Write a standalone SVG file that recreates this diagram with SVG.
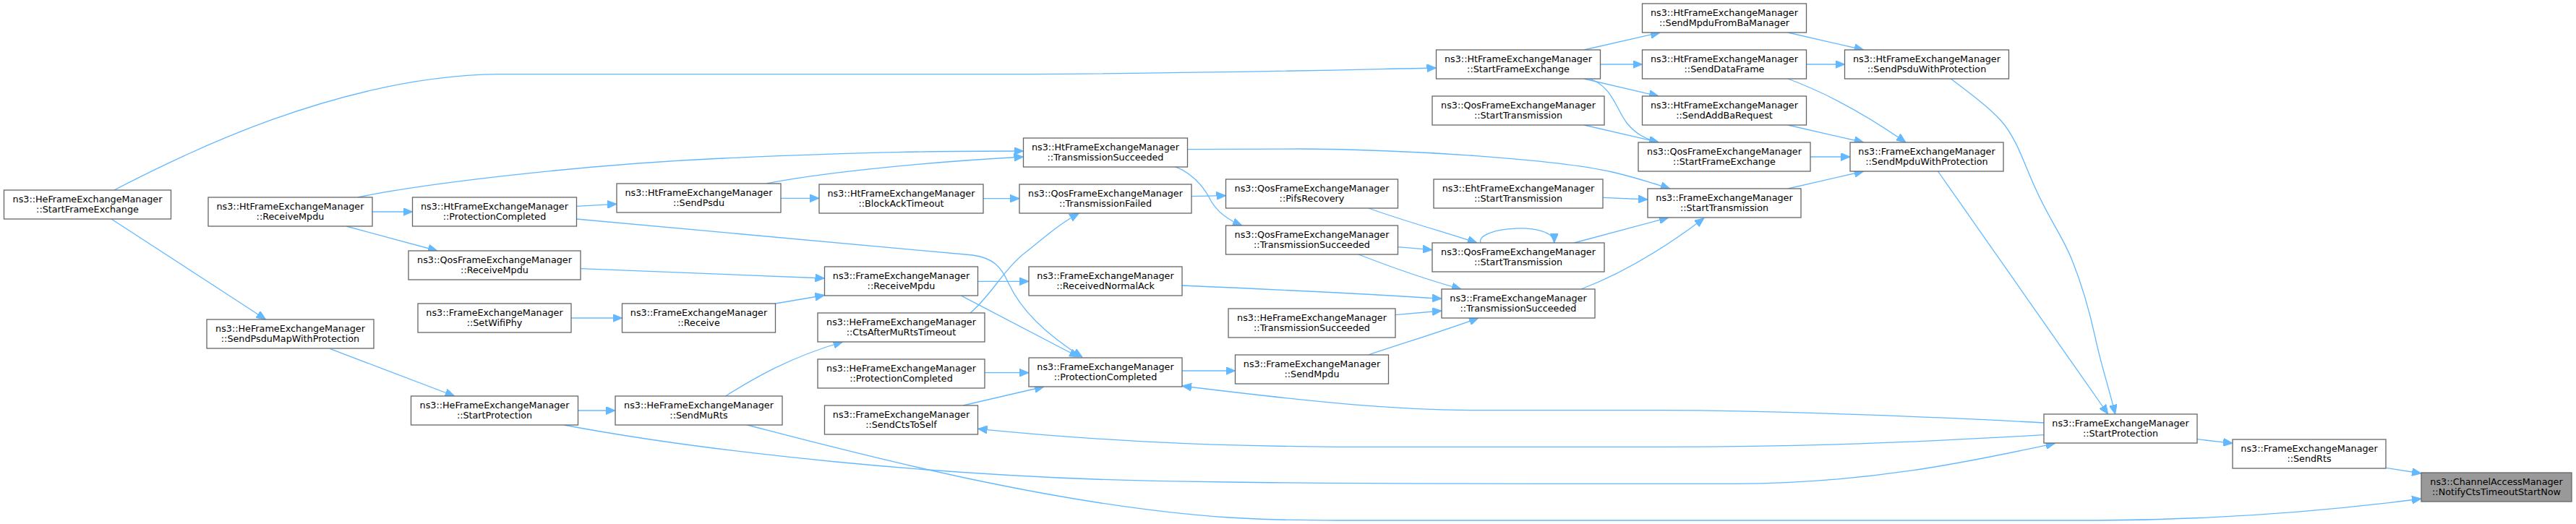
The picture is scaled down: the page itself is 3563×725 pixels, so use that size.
<svg xmlns="http://www.w3.org/2000/svg" width="3563" height="725" viewBox="0 0 3563 725">
<style>
.node rect{fill:#ffffff;stroke:#666666;stroke-width:1.3}
.root rect{fill:#999999}
.node text{font-family:"DejaVu Sans","Liberation Sans",sans-serif;font-size:12.75px;text-anchor:middle;fill:#000000}
#edges path{fill:none;stroke:#63b8ff;stroke-width:1.3;marker-end:url(#ah)}
</style>
<defs>
<marker id="ah" viewBox="0 0 13 11" refX="13" refY="5.5" markerWidth="13" markerHeight="11" markerUnits="userSpaceOnUse" orient="auto">
<path d="M0,0 L13,5.5 L0,11 z" fill="#63b8ff" stroke="#63b8ff" stroke-width="1"/>
</marker>
</defs>
<rect x="0" y="0" width="3563" height="725" fill="#ffffff"/>
<g id="edges">
<path d="M158,263 C250,215 470,105 690,102.7 L1420,102.7 C1700,101 1860,96.5 1986.5,94"/>
<path d="M154,303 L367.7,442"/>
<path d="M515,293 L570.5,293"/>
<path d="M479,313 L605,347"/>
<path d="M495,273 C580,255 800,228 1000,219 S1300,209 1415.5,209"/>
<path d="M1060,254 C1120,242 1250,226 1415.5,217"/>
<path d="M797,285.3 L853,282.3"/>
<path d="M797,303 L1345,353 C1375,357 1385,370 1395,392 C1415,435 1455,468 1497,494"/>
<path d="M1330,409.3 L1492,494"/>
<path d="M803,371.7 L1140.5,385"/>
<path d="M1072.5,420 L1140.5,408.5"/>
<path d="M790,440 L860.5,440"/>
<path d="M456.7,482.7 L628.7,548"/>
<path d="M799.5,568 L851,568"/>
<path d="M780,588 C950,620 1300,665 1700,667 C1900,670 2200,669.3 2400,669.3 C2580,669 2720,640 2842.6,613.3"/>
<path d="M1033.6,588 C1150,618 1450,700 1700,716 C1750,719 1800,720 1850,720 L2900,720 C3100,719 3250,703 3349,690"/>
<path d="M2827,585 C2700,578 2450,567.7 2300,567.7 L2040,567.7 C1930,567 1830,558 1635,534"/>
<path d="M2827,601.7 C2650,612 2500,618.3 2300,618.3 L1850,618.3 C1650,617 1500,608 1352.5,593.3"/>
<path d="M1003.7,548 C1040,525 1090,495 1165.6,473"/>
<path d="M1342,433 C1370,410 1390,370 1420,348 C1445,328 1465,310 1492.4,295"/>
<path d="M1352.5,389.3 L1423,389.3"/>
<path d="M1362,515.7 L1423,515.7"/>
<path d="M1332,561 L1444,535"/>
<path d="M1635,513 L1708.5,513"/>
<path d="M1635,395 C1750,400 1880,406 1994,413.3"/>
<path d="M1642.5,206.7 L1800,206 C1950,207 2150,220 2230,238 C2260,245 2285,253 2309.8,261"/>
<path d="M1625,230.3 C1650,240 1665,258 1675,278 C1685,295 1700,305 1718,312"/>
<path d="M1360,274.7 L1410,274.7"/>
<path d="M1080,274.3 L1133,274.3"/>
<path d="M1648,271.7 L1695.5,270.7"/>
<path d="M1892.7,288 C1940,305 2000,322 2043,336"/>
<path d="M1933,341.7 L1981,345.7"/>
<path d="M1879,352 C1920,368 1970,386 2021,400"/>
<path d="M1930,435.7 L1994,430"/>
<path d="M1892.7,491 C1940,475 1990,460 2045,440"/>
<path d="M2048,336 C2040,314 2150,305 2149.7,336"/>
<path d="M2177.4,336 L2307.8,301"/>
<path d="M2187,400 C2240,380 2300,345 2357,301.7"/>
<path d="M2217,273.3 L2279,276"/>
<path d="M2191,69 L2296,45"/>
<path d="M2213.5,89 L2271.5,89"/>
<path d="M2191,109 L2294,133"/>
<path d="M2199,109 C2230,120 2235,150 2250,170 C2262,185 2275,192 2294,197"/>
<path d="M2191,173 L2294,196.7"/>
<path d="M2473,45 L2577.7,69"/>
<path d="M2498.5,89 L2551.5,89"/>
<path d="M2473,109 C2530,130 2590,165 2636,197"/>
<path d="M2473,173 L2577.7,197"/>
<path d="M2504,217 L2559,217"/>
<path d="M2473,261 L2577.7,237"/>
<path d="M2698.3,109 C2730,133 2750,148 2767.5,166.7 C2790,192 2800,228 2815,260 C2835,305 2852,325 2866,360 C2880,395 2890,430 2898,466.7 C2906,505 2918,540 2925.6,573"/>
<path d="M2680.5,237 L2915.8,573"/>
<path d="M3039,607.7 L3088,613.3"/>
<path d="M3300.5,647.3 L3349,655"/>
</g>
<g id="n1" class="node"><rect x="5.5" y="263" width="231" height="40"/><text><tspan x="121" y="280">ns3::HeFrameExchangeManager</tspan><tspan x="121" y="294">::StartFrameExchange</tspan></text></g>
<g id="n2" class="node"><rect x="288" y="273" width="227" height="40"/><text><tspan x="401.5" y="290">ns3::HtFrameExchangeManager</tspan><tspan x="401.5" y="304">::ReceiveMpdu</tspan></text></g>
<g id="n3" class="node"><rect x="570.5" y="273" width="227" height="40"/><text><tspan x="684" y="290">ns3::HtFrameExchangeManager</tspan><tspan x="684" y="304">::ProtectionCompleted</tspan></text></g>
<g id="n4" class="node"><rect x="565" y="347" width="238" height="40"/><text><tspan x="684" y="364">ns3::QosFrameExchangeManager</tspan><tspan x="684" y="378">::ReceiveMpdu</tspan></text></g>
<g id="n5" class="node"><rect x="286" y="442" width="231" height="40"/><text><tspan x="401.5" y="459">ns3::HeFrameExchangeManager</tspan><tspan x="401.5" y="473">::SendPsduMapWithProtection</tspan></text></g>
<g id="n6" class="node"><rect x="578" y="420" width="212" height="40"/><text><tspan x="684" y="437">ns3::FrameExchangeManager</tspan><tspan x="684" y="451">::SetWifiPhy</tspan></text></g>
<g id="n7" class="node"><rect x="568.5" y="548" width="231" height="40"/><text><tspan x="684" y="565">ns3::HeFrameExchangeManager</tspan><tspan x="684" y="579">::StartProtection</tspan></text></g>
<g id="n8" class="node"><rect x="853" y="254" width="227" height="40"/><text><tspan x="966.5" y="271">ns3::HtFrameExchangeManager</tspan><tspan x="966.5" y="285">::SendPsdu</tspan></text></g>
<g id="n9" class="node"><rect x="1133" y="255" width="227" height="40"/><text><tspan x="1246.5" y="272">ns3::HtFrameExchangeManager</tspan><tspan x="1246.5" y="286">::BlockAckTimeout</tspan></text></g>
<g id="n10" class="node"><rect x="1140.5" y="369" width="212" height="40"/><text><tspan x="1246.5" y="386">ns3::FrameExchangeManager</tspan><tspan x="1246.5" y="400">::ReceiveMpdu</tspan></text></g>
<g id="n11" class="node"><rect x="860.5" y="420" width="212" height="40"/><text><tspan x="966.5" y="437">ns3::FrameExchangeManager</tspan><tspan x="966.5" y="451">::Receive</tspan></text></g>
<g id="n12" class="node"><rect x="851" y="548" width="231" height="40"/><text><tspan x="966.5" y="565">ns3::HeFrameExchangeManager</tspan><tspan x="966.5" y="579">::SendMuRts</tspan></text></g>
<g id="n13" class="node"><rect x="1131" y="433" width="231" height="40"/><text><tspan x="1246.5" y="450">ns3::HeFrameExchangeManager</tspan><tspan x="1246.5" y="464">::CtsAfterMuRtsTimeout</tspan></text></g>
<g id="n14" class="node"><rect x="1131" y="497" width="231" height="40"/><text><tspan x="1246.5" y="514">ns3::HeFrameExchangeManager</tspan><tspan x="1246.5" y="528">::ProtectionCompleted</tspan></text></g>
<g id="n15" class="node"><rect x="1140.5" y="561" width="212" height="40"/><text><tspan x="1246.5" y="578">ns3::FrameExchangeManager</tspan><tspan x="1246.5" y="592">::SendCtsToSelf</tspan></text></g>
<g id="n16" class="node"><rect x="1415.5" y="191" width="227" height="40"/><text><tspan x="1529" y="208">ns3::HtFrameExchangeManager</tspan><tspan x="1529" y="222">::TransmissionSucceeded</tspan></text></g>
<g id="n17" class="node"><rect x="1410" y="255" width="238" height="40"/><text><tspan x="1529" y="272">ns3::QosFrameExchangeManager</tspan><tspan x="1529" y="286">::TransmissionFailed</tspan></text></g>
<g id="n18" class="node"><rect x="1423" y="369" width="212" height="40"/><text><tspan x="1529" y="386">ns3::FrameExchangeManager</tspan><tspan x="1529" y="400">::ReceivedNormalAck</tspan></text></g>
<g id="n19" class="node"><rect x="1423" y="495" width="212" height="40"/><text><tspan x="1529" y="512">ns3::FrameExchangeManager</tspan><tspan x="1529" y="526">::ProtectionCompleted</tspan></text></g>
<g id="n20" class="node"><rect x="1695.5" y="248" width="238" height="40"/><text><tspan x="1814.5" y="265">ns3::QosFrameExchangeManager</tspan><tspan x="1814.5" y="279">::PifsRecovery</tspan></text></g>
<g id="n21" class="node"><rect x="1695.5" y="312" width="238" height="40"/><text><tspan x="1814.5" y="329">ns3::QosFrameExchangeManager</tspan><tspan x="1814.5" y="343">::TransmissionSucceeded</tspan></text></g>
<g id="n22" class="node"><rect x="1699" y="427" width="231" height="40"/><text><tspan x="1814.5" y="444">ns3::HeFrameExchangeManager</tspan><tspan x="1814.5" y="458">::TransmissionSucceeded</tspan></text></g>
<g id="n23" class="node"><rect x="1708.5" y="491" width="212" height="40"/><text><tspan x="1814.5" y="508">ns3::FrameExchangeManager</tspan><tspan x="1814.5" y="522">::SendMpdu</tspan></text></g>
<g id="n24" class="node"><rect x="1986.5" y="69" width="227" height="40"/><text><tspan x="2100" y="86">ns3::HtFrameExchangeManager</tspan><tspan x="2100" y="100">::StartFrameExchange</tspan></text></g>
<g id="n25" class="node"><rect x="1981" y="133" width="238" height="40"/><text><tspan x="2100" y="150">ns3::QosFrameExchangeManager</tspan><tspan x="2100" y="164">::StartTransmission</tspan></text></g>
<g id="n26" class="node"><rect x="1983" y="248" width="234" height="40"/><text><tspan x="2100" y="265">ns3::EhtFrameExchangeManager</tspan><tspan x="2100" y="279">::StartTransmission</tspan></text></g>
<g id="n27" class="node"><rect x="1981" y="336" width="238" height="40"/><text><tspan x="2100" y="353">ns3::QosFrameExchangeManager</tspan><tspan x="2100" y="367">::StartTransmission</tspan></text></g>
<g id="n28" class="node"><rect x="1994" y="400" width="212" height="40"/><text><tspan x="2100" y="417">ns3::FrameExchangeManager</tspan><tspan x="2100" y="431">::TransmissionSucceeded</tspan></text></g>
<g id="n29" class="node"><rect x="2271.5" y="5" width="227" height="40"/><text><tspan x="2385" y="22">ns3::HtFrameExchangeManager</tspan><tspan x="2385" y="36">::SendMpduFromBaManager</tspan></text></g>
<g id="n30" class="node"><rect x="2271.5" y="69" width="227" height="40"/><text><tspan x="2385" y="86">ns3::HtFrameExchangeManager</tspan><tspan x="2385" y="100">::SendDataFrame</tspan></text></g>
<g id="n31" class="node"><rect x="2271.5" y="133" width="227" height="40"/><text><tspan x="2385" y="150">ns3::HtFrameExchangeManager</tspan><tspan x="2385" y="164">::SendAddBaRequest</tspan></text></g>
<g id="n32" class="node"><rect x="2266" y="197" width="238" height="40"/><text><tspan x="2385" y="214">ns3::QosFrameExchangeManager</tspan><tspan x="2385" y="228">::StartFrameExchange</tspan></text></g>
<g id="n33" class="node"><rect x="2279" y="261" width="212" height="40"/><text><tspan x="2385" y="278">ns3::FrameExchangeManager</tspan><tspan x="2385" y="292">::StartTransmission</tspan></text></g>
<g id="n34" class="node"><rect x="2551.5" y="69" width="227" height="40"/><text><tspan x="2665" y="86">ns3::HtFrameExchangeManager</tspan><tspan x="2665" y="100">::SendPsduWithProtection</tspan></text></g>
<g id="n35" class="node"><rect x="2559" y="197" width="212" height="40"/><text><tspan x="2665" y="214">ns3::FrameExchangeManager</tspan><tspan x="2665" y="228">::SendMpduWithProtection</tspan></text></g>
<g id="n36" class="node"><rect x="2827" y="573" width="212" height="40"/><text><tspan x="2933" y="590">ns3::FrameExchangeManager</tspan><tspan x="2933" y="604">::StartProtection</tspan></text></g>
<g id="n37" class="node"><rect x="3088" y="608" width="212" height="40"/><text><tspan x="3194" y="625">ns3::FrameExchangeManager</tspan><tspan x="3194" y="639">::SendRts</tspan></text></g>
<g id="n38" class="node root"><rect x="3349" y="654" width="208" height="40"/><text><tspan x="3453" y="671">ns3::ChannelAccessManager</tspan><tspan x="3453" y="685">::NotifyCtsTimeoutStartNow</tspan></text></g>
</svg>
